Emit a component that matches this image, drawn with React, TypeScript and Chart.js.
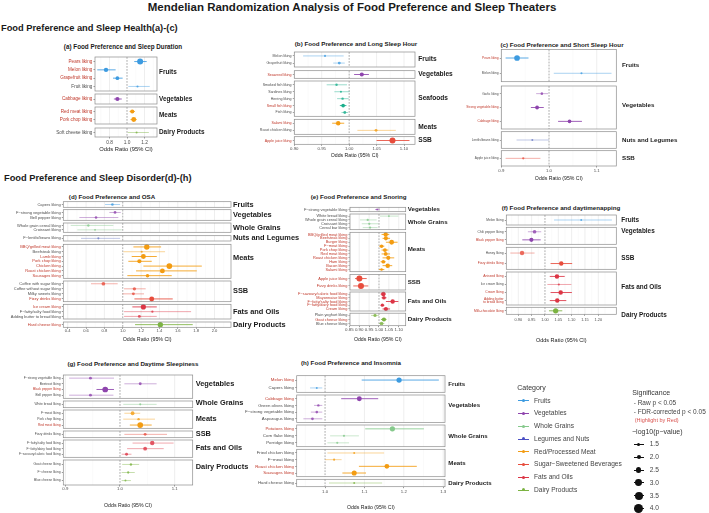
import React, { useEffect, useRef } from 'react';
import { Chart, registerables } from 'chart.js';

Chart.register(...registerables);

const FONT = "'Liberation Sans', Arial, Helvetica, sans-serif";
const RED_LABEL = '#C0392B';
const DARK_LABEL = '#4D4D4D';

const GROUP_COLORS: Record<string, string> = {
  Fruits: '#3D9BE0',
  Vegetables: '#8E44AD',
  'Whole Grains': '#86C98C',
  'Nuts and Legumes': '#6C7BC4',
  Meats: '#F39C12',
  Seafoods: '#1AAE8C',
  SSB: '#E74C3C',
  'Fats and Oils': '#DC3545',
  'Dairy Products': '#7CB342',
};

// ---------------- (a) Sleep Duration ----------------
const aLabels = ['Pears liking', 'Melon liking', 'Grapefruit liking', 'Fruit liking', 'Cabbage liking', 'Red meat liking', 'Pork chop liking', 'Soft cheese liking'];
const aGroups = ['Fruits', 'Fruits', 'Fruits', 'Fruits', 'Vegetables', 'Meats', 'Meats', 'Dairy Products'];
const aOR = [1.15, 0.76, 0.89, 1.12, 0.89, 1.06, 1.077, 1.11];
const aLow = [1.083, 0.66, 0.84, 1.015, 0.85, 1.03, 1.04, 1.008];
const aHigh = [1.225, 0.87, 0.95, 1.26, 0.94, 1.09, 1.11, 1.25];
const aLogP = [4.0, 3.0, 2.5, 1.5, 2.8, 2.8, 3.3, 1.4];
const aFdr = [1, 1, 1, 0, 1, 1, 1, 0];
const aTicks = [0.8, 1.0, 1.2];
const aMinor = [0.7, 0.9, 1.1, 1.3];

// ---------------- (b) Long Sleep Hour ----------------
const bLabels = ['Melon liking', 'Grapefruit liking', 'Seaweed liking', 'Smoked fish liking', 'Sardines liking', 'Herring liking', 'Small fish liking', 'Fish liking', 'Salami liking', 'Roast chicken liking', 'Apple juice liking'];
const bGroups = ['Fruits', 'Fruits', 'Vegetables', 'Seafoods', 'Seafoods', 'Seafoods', 'Seafoods', 'Seafoods', 'Meats', 'Meats', 'SSB'];
const bOR = [0.956, 0.982, 1.023, 0.977, 0.985, 0.988, 0.989, 0.992, 0.98, 1.049, 1.079];
const bLow = [0.916, 0.971, 1.009, 0.959, 0.973, 0.978, 0.983, 0.986, 0.969, 1.015, 1.05];
const bHigh = [0.99, 0.992, 1.036, 0.996, 1.001, 0.999, 0.995, 0.998, 0.991, 1.085, 1.11];
const bLogP = [1.5, 2.0, 2.8, 1.7, 1.5, 1.7, 2.5, 2.0, 3.0, 2.0, 4.0];
const bFdr = [0, 0, 1, 0, 0, 0, 1, 0, 1, 0, 1];
const bTicks = [0.9, 0.95, 1.0, 1.05, 1.1];
const bMinor = [0.925, 0.975, 1.025, 1.075];

// ---------------- (c) Short Sleep Hour ----------------
const cLabels = ['Pears liking', 'Melon liking', 'Garlic liking', 'Strong vegetable liking', 'Cabbage liking', 'Lentils/beans liking', 'Apple juice liking'];
const cGroups = ['Fruits', 'Fruits', 'Vegetables', 'Vegetables', 'Vegetables', 'Nuts and Legumes', 'SSB'];
const cOR = [0.933, 1.068, 0.985, 0.975, 1.043, 0.965, 0.946];
const cLow = [0.909, 1.01, 0.973, 0.962, 1.019, 0.932, 0.909];
const cHigh = [0.957, 1.131, 0.998, 0.989, 1.069, 1.0, 0.982];
const cLogP = [3.8, 1.5, 1.8, 2.6, 2.5, 1.4, 1.6];
const cFdr = [1, 0, 0, 1, 1, 0, 0];
const cTicks = [0.9, 1.0, 1.1];
const cMinor = [0.95, 1.05];

// ---------------- (d) OSA ----------------
const dLabels = ['Capers liking', 'F−strong vegetable liking', 'Bell pepper liking', 'Whole grain cereal liking', 'Croissant liking', 'F−lentils/beans liking', 'BBQ/grilled meat liking', 'Beefsteak liking', 'Lamb liking', 'Pork chop liking', 'Chicken liking', 'Roast chicken liking', 'Sausages liking', 'Coffee with sugar liking', 'Coffee without sugar liking', 'Milky sweets liking', 'Fizzy drinks liking', 'Ice cream liking', 'F−fatty/salty food liking', 'Adding butter to bread liking', 'Hard cheese liking'];
const dGroups = ['Fruits', 'Vegetables', 'Vegetables', 'Whole Grains', 'Whole Grains', 'Nuts and Legumes', 'Meats', 'Meats', 'Meats', 'Meats', 'Meats', 'Meats', 'Meats', 'SSB', 'SSB', 'SSB', 'SSB', 'Fats and Oils', 'Fats and Oils', 'Fats and Oils', 'Dairy Products'];
const dOR = [0.887, 0.916, 0.709, 0.625, 0.698, 0.734, 1.262, 1.207, 1.225, 1.181, 1.508, 1.432, 1.27, 0.789, 1.127, 1.116, 1.316, 1.225, 1.323, 1.181, 1.41];
const dLow = [0.807, 0.854, 0.527, 0.433, 0.505, 0.545, 1.116, 1.007, 1.098, 1.061, 1.225, 1.145, 1.05, 0.654, 1.014, 1.0, 1.127, 1.105, 1.014, 1.014, 1.134];
const dHigh = [0.971, 0.978, 0.952, 0.898, 0.989, 0.971, 1.418, 1.461, 1.371, 1.316, 1.862, 1.807, 1.534, 0.945, 1.25, 1.232, 1.545, 1.371, 1.745, 1.371, 1.763];
const dLogP = [1.8, 1.9, 1.8, 1.7, 1.4, 1.5, 3.6, 1.5, 3.3, 2.8, 3.8, 3.3, 2.4, 2.5, 2.3, 2.0, 3.3, 3.4, 1.6, 2.0, 3.5];
const dFdr = [0, 0, 0, 0, 0, 0, 1, 0, 1, 1, 1, 1, 1, 0, 0, 0, 1, 1, 0, 0, 1];
const dTicks = [0.4, 0.6, 0.8, 1.0, 1.2, 1.4, 1.6, 1.8, 2.0];
const dMinor = [0.5, 0.7, 0.9, 1.1, 1.3, 1.5, 1.7, 1.9, 2.1];

// ---------------- (e) Snoring ----------------
const eLabels = ['F−strong vegetable liking', 'White bread liking', 'Whole grain cereal liking', 'Croissant liking', 'Cereal bar liking', 'BBQ/grilled meat liking', 'Beefsteak liking', 'Burger liking', 'F−meat liking', 'Pork chop liking', 'Red meat liking', 'Roast chicken liking', 'Ham liking', 'Bacon liking', 'Salami liking', 'Apple juice liking', 'Fizzy drinks liking', 'F−savoury/caloric food liking', 'Mayonnaise liking', 'F−fatty/salty food liking', 'F−fatty/dairy food liking', 'Cream liking', 'Plain yoghurt liking', 'Goat cheese liking', 'Blue cheese liking'];
const eGroups = ['Vegetables', 'Whole Grains', 'Whole Grains', 'Whole Grains', 'Whole Grains', 'Meats', 'Meats', 'Meats', 'Meats', 'Meats', 'Meats', 'Meats', 'Meats', 'Meats', 'Meats', 'SSB', 'SSB', 'Fats and Oils', 'Fats and Oils', 'Fats and Oils', 'Fats and Oils', 'Fats and Oils', 'Dairy Products', 'Dairy Products', 'Dairy Products'];
const eOR = [0.991, 1.05, 0.943, 0.951, 0.955, 1.034, 1.035, 1.064, 1.013, 1.03, 1.034, 1.047, 1.022, 1.044, 1.013, 0.901, 0.909, 1.022, 1.025, 1.069, 1.017, 1.035, 0.98, 1.025, 1.013];
const eLow = [0.98, 1.005, 0.904, 0.913, 0.918, 1.013, 1.018, 1.035, 1.002, 1.013, 1.013, 1.018, 1.008, 1.018, 1.0, 0.879, 0.87, 1.008, 1.013, 1.035, 1.008, 1.018, 0.96, 1.01, 1.0];
const eHigh = [1.005, 1.098, 0.988, 0.997, 0.993, 1.052, 1.056, 1.094, 1.027, 1.047, 1.056, 1.077, 1.034, 1.067, 1.027, 0.938, 0.946, 1.034, 1.038, 1.098, 1.027, 1.056, 1.0, 1.038, 1.027];
const eLogP = [1.5, 1.4, 1.6, 1.6, 1.6, 3.0, 2.8, 3.2, 2.4, 2.6, 2.6, 2.8, 2.5, 3.0, 1.8, 4.0, 4.0, 3.0, 2.5, 3.0, 2.2, 2.8, 2.2, 2.8, 2.5];
const eFdr = [0, 0, 0, 0, 0, 1, 1, 1, 1, 1, 1, 1, 1, 1, 1, 1, 1, 1, 1, 1, 1, 1, 0, 1, 0];
const eTicks = [0.85, 0.9, 0.95, 1.0, 1.05, 1.1];
const eMinor: number[] = [];

// ---------------- (f) daytime napping ----------------
const fLabels = ['Melon liking', 'Chili pepper liking', 'Black pepper liking', 'Honey liking', 'Fizzy drinks liking', 'Aniseed liking', 'Ice cream liking', 'Cream liking', 'Adding butter\nto bread liking', 'Milk-chocolate liking'];
const fGroups = ['Fruits', 'Vegetables', 'Vegetables', 'SSB', 'SSB', 'Fats and Oils', 'Fats and Oils', 'Fats and Oils', 'Fats and Oils', 'Dairy Products'];
const fOR = [1.136, 0.961, 0.949, 0.914, 1.061, 1.045, 1.052, 1.059, 1.046, 1.04];
const fLow = [1.034, 0.936, 0.915, 0.87, 1.021, 1.018, 1.009, 1.021, 1.018, 1.015];
const fHigh = [1.251, 0.986, 0.984, 0.961, 1.102, 1.074, 1.099, 1.101, 1.08, 1.065];
const fLogP = [1.4, 2.5, 2.8, 3.0, 3.0, 3.0, 1.5, 3.0, 3.0, 3.5];
const fFdr = [0, 0, 1, 0, 1, 1, 0, 1, 1, 1];
const fTicks = [0.9, 0.95, 1.0, 1.05, 1.1, 1.15, 1.2];
const fMinor = [0.875, 0.925, 0.975, 1.025, 1.075, 1.125, 1.175, 1.225];

// ---------------- (g) Daytime Sleepiness ----------------
const gLabels = ['F−strong vegetable liking', 'Beetroot liking', 'Black pepper liking', 'Bell pepper liking', 'White bread liking', 'F−meat liking', 'Pork chop liking', 'Red meat liking', 'Fizzy drinks liking', 'F−fatty/salty food liking', 'F−fatty/dairy food liking', 'F−savoury/caloric food liking', 'Goat cheese liking', 'F−cheese liking', 'Blue cheese liking'];
const gGroups = ['Vegetables', 'Vegetables', 'Vegetables', 'Vegetables', 'Whole Grains', 'Meats', 'Meats', 'Meats', 'SSB', 'Fats and Oils', 'Fats and Oils', 'Fats and Oils', 'Dairy Products', 'Dairy Products', 'Dairy Products'];
const gOR = [0.946, 1.037, 0.973, 0.946, 1.037, 1.023, 1.034, 1.037, 1.046, 1.059, 1.046, 1.012, 1.02, 1.015, 1.01];
const gLow = [0.907, 1.008, 0.957, 0.907, 1.006, 1.008, 1.006, 1.018, 1.008, 1.023, 1.013, 1.003, 1.004, 1.003, 1.003];
const gHigh = [0.989, 1.067, 0.989, 0.988, 1.067, 1.037, 1.064, 1.058, 1.086, 1.098, 1.08, 1.021, 1.035, 1.027, 1.02];
const gLogP = [2.0, 2.0, 3.8, 2.0, 1.5, 2.6, 1.7, 3.8, 2.0, 3.0, 2.6, 2.0, 1.7, 1.6, 1.4];
const gFdr = [0, 0, 1, 0, 0, 0, 0, 1, 0, 0, 0, 0, 0, 0, 0];
const gTicks = [0.9, 1.0, 1.1];
const gMinor = [0.95, 1.05];

// ---------------- (h) Insomnia ----------------
const hLabels = ['Melon liking', 'Capers liking', 'Cabbage liking', 'Green olives liking', 'F−strong vegetable liking', 'Asparagus liking', 'Potatoes liking', 'Corn flake liking', 'Porridge liking', 'Fried chicken liking', 'F−meat liking', 'Roast chicken liking', 'Sausages liking', 'Hard cheese liking'];
const hGroups = ['Fruits', 'Fruits', 'Vegetables', 'Vegetables', 'Vegetables', 'Vegetables', 'Whole Grains', 'Whole Grains', 'Whole Grains', 'Meats', 'Meats', 'Meats', 'Meats', 'Dairy Products'];
const hOR = [1.188, 0.979, 1.087, 0.983, 0.979, 0.968, 1.171, 1.048, 1.031, 1.074, 1.023, 1.157, 1.074, 1.074];
const hLow = [1.093, 0.962, 1.041, 0.972, 0.964, 0.945, 1.102, 1.013, 1.006, 1.006, 1.0, 1.086, 1.044, 1.01];
const hHigh = [1.289, 0.993, 1.135, 0.993, 0.993, 0.993, 1.251, 1.086, 1.061, 1.15, 1.042, 1.233, 1.104, 1.145];
const hLogP = [3.5, 1.4, 3.3, 1.7, 1.8, 1.9, 3.5, 1.6, 1.5, 1.4, 1.5, 3.2, 3.4, 1.4];
const hFdr = [1, 0, 1, 0, 0, 0, 1, 0, 0, 0, 0, 1, 1, 0];
const hTicks = [1.0, 1.1, 1.2, 1.3];
const hMinor = [0.95, 1.05, 1.15, 1.25];

// ---------------- legend ----------------
const legendCats = ['Fruits', 'Vegetables', 'Whole Grains', 'Legumes and Nuts', 'Red/Processed Meat', 'Sugar−Sweetened Beverages', 'Fats and Oils', 'Dairy Products'];
const legendColors = ['#3D9BE0', '#8E44AD', '#86C98C', '#4B4FC4', '#F39C12', '#E74C3C', '#DC3545', '#7CB342'];
const sizeLevels = [1.5, 2.0, 2.5, 3.0, 3.5, 4.0];

type Series = { labels: string[]; groups: string[]; or: number[]; lo: number[]; hi: number[]; logp: number[]; fdr: number[]; ticks: number[]; minor: number[] };
type Layout = {
  L: number; R: number; boxes: number[][]; labelDy?: number[]; xMin: number; xMax: number; decimals: number;
  tickY: number; titleY: number; groupX: number;
  groupFont: number; labelFont: number; tickFont: number; titleFont: number;
  canvasLeft: number; canvasRight: number;
};

function rgba(hex: string, a: number) {
  const n = parseInt(hex.slice(1), 16);
  return `rgba(${(n >> 16) & 255},${(n >> 8) & 255},${n & 255},${a})`;
}
const radius = (s: number) => 0.9 + (s - 1.3) * 0.78;

const PANELS: { s: Series; lay: Layout }[] = [
  {
    s: { labels: aLabels, groups: aGroups, or: aOR, lo: aLow, hi: aHigh, logp: aLogP, fdr: aFdr, ticks: aTicks, minor: aMinor },
    lay: { L: 95, R: 157, boxes: [[57, 91], [94, 104], [107, 124], [128, 137]], labelDy: [-1.5, 0, 0, 0], xMin: 0.634, xMax: 1.343, decimals: 1, tickY: 143, titleY: 149, groupX: 159, groupFont: 6.4, labelFont: 4.6, tickFont: 4.8, titleFont: 5.8, canvasLeft: 20, canvasRight: 240 },
  },
  {
    s: { labels: bLabels, groups: bGroups, or: bOR, lo: bLow, hi: bHigh, logp: bLogP, fdr: bFdr, ticks: bTicks, minor: bMinor },
    lay: { L: 294.3, R: 415, boxes: [[52, 67], [70.7, 78.3], [81, 116.3], [119.3, 134.3], [136.7, 144.3]], xMin: 0.9, xMax: 1.12, decimals: 2, tickY: 149, titleY: 155.7, groupX: 418.3, groupFont: 6.6, labelFont: 3.6, tickFont: 4.3, titleFont: 5.2, canvasLeft: 245, canvasRight: 470 },
  },
  {
    s: { labels: cLabels, groups: cGroups, or: cOR, lo: cLow, hi: cHigh, logp: cLogP, fdr: cFdr, ticks: cTicks, minor: cMinor },
    lay: { L: 501.3, R: 616.3, boxes: [[49.6, 81.7], [86, 129], [131.7, 148.3], [150.7, 166]], labelDy: [0, -2.5, 0, 0], xMin: 0.9, xMax: 1.141, decimals: 1, tickY: 171, titleY: 178.3, groupX: 622, groupFont: 6.2, labelFont: 3.2, tickFont: 4.3, titleFont: 5.2, canvasLeft: 450, canvasRight: 709 },
  },
  {
    s: { labels: dLabels, groups: dGroups, or: dOR, lo: dLow, hi: dHigh, logp: dLogP, fdr: dFdr, ticks: dTicks, minor: dMinor },
    lay: { L: 63.3, R: 231, boxes: [[201.7, 207.3], [209.7, 220.3], [223, 232.3], [235.7, 241], [244.3, 278.3], [281, 301.7], [304.3, 319], [322, 327.3]], labelDy: [0, 0, 0, 0, -3.5, 0, 0, 0], xMin: 0.352, xMax: 2.18, decimals: 1, tickY: 331, titleY: 339.3, groupX: 233, groupFont: 7.4, labelFont: 4.0, tickFont: 4.1, titleFont: 5.3, canvasLeft: 0, canvasRight: 305 },
  },
  {
    s: { labels: eLabels, groups: eGroups, or: eOR, lo: eLow, hi: eHigh, logp: eLogP, fdr: eFdr, ticks: eTicks, minor: eMinor },
    lay: { L: 350, R: 405.7, boxes: [[207.3, 211.7], [214, 229.7], [232.3, 271.7], [274.5, 290], [292, 311], [313.2, 325.7]], labelDy: [0, 0, -3, 0, 0, 0], xMin: 0.8535, xMax: 1.135, decimals: 2, tickY: 329, titleY: 339.3, groupX: 407.7, groupFont: 6.2, labelFont: 3.9, tickFont: 4.4, titleFont: 5.2, canvasLeft: 285, canvasRight: 470 },
  },
  {
    s: { labels: fLabels, groups: fGroups, or: fOR, lo: fLow, hi: fHigh, logp: fLogP, fdr: fFdr, ticks: fTicks, minor: fMinor },
    lay: { L: 506.3, R: 616.3, boxes: [[215, 225], [227.3, 244.3], [247.3, 269.3], [272, 305], [307.3, 314.3]], labelDy: [0, -5, 0, -1, 4.5], xMin: 0.855, xMax: 1.2675, decimals: 2, tickY: 320, titleY: 340, groupX: 621.3, groupFont: 6.4, labelFont: 3.3, tickFont: 3.9, titleFont: 5.5, canvasLeft: 460, canvasRight: 709 },
  },
  {
    s: { labels: gLabels, groups: gGroups, or: gOR, lo: gLow, hi: gHigh, logp: gLogP, fdr: gFdr, ticks: gTicks, minor: gMinor },
    lay: { L: 63.3, R: 192.7, boxes: [[375, 398.3], [401, 407.7], [410, 428.3], [431, 437.7], [440, 457.3], [460, 485]], labelDy: [-2.7, -1, 0, 0, -1, -6], xMin: 0.8963, xMax: 1.133, decimals: 1, tickY: 489, titleY: 506, groupX: 195.7, groupFont: 7.4, labelFont: 3.3, tickFont: 4.3, titleFont: 5.2, canvasLeft: 0, canvasRight: 255 },
  },
  {
    s: { labels: hLabels, groups: hGroups, or: hOR, lo: hLow, hi: hHigh, logp: hLogP, fdr: hFdr, ticks: hTicks, minor: hMinor },
    lay: { L: 296.7, R: 445, boxes: [[375.7, 392.3], [395, 422.5], [425, 446.7], [449.3, 476.7], [479.3, 486.7]], labelDy: [0, -3, 0, 0, 0], xMin: 0.928, xMax: 1.3046, decimals: 1, tickY: 491.7, titleY: 507.3, groupX: 448.3, groupFont: 6.1, labelFont: 4.4, tickFont: 4.3, titleFont: 5.2, canvasLeft: 240, canvasRight: 505 },
  },
];

function ForestPanel({ s, lay }: { s: Series; lay: Layout }) {
  const ref = useRef<HTMLCanvasElement | null>(null);
  const T = lay.boxes[0][0];
  const B = lay.boxes[lay.boxes.length - 1][1];
  const canvasTop = Math.floor(T - 5);
  const padTop = T - canvasTop;
  const axisH = lay.titleY - B + lay.titleFont * 0.6;
  const canvasH = Math.ceil(padTop + (B - T) + axisH + 1);
  const padBottom = canvasH - (padTop + (B - T) + axisH);
  const canvasW = lay.canvasRight - lay.canvasLeft;
  const TL = 1.5;

  useEffect(() => {
    const canvas = ref.current;
    if (!canvas) return;
    const groupNames: string[] = [];
    s.groups.forEach((g) => { if (!groupNames.includes(g)) groupNames.push(g); });
    const boxes = lay.boxes.map(([t, b]) => [t - T, b - T]);
    const E = 0.55;
    const rowPos = s.labels.map((_, i) => {
      const gi = groupNames.indexOf(s.groups[i]);
      const members = s.groups.map((g, j) => (g === s.groups[i] ? j : -1)).filter((j) => j >= 0);
      const k = members.indexOf(i);
      const n = members.length;
      const [t, b] = boxes[gi];
      return t + ((b - t) * (E + k)) / (n - 1 + 2 * E);
    });

    const colorOf = (i: number) => GROUP_COLORS[s.groups[i]] || '#888';
    const datasets: any[] = [
      {
        data: s.or.map((v, i) => ({ x: v, y: rowPos[i] })),
        pointRadius: s.logp.map(radius),
        pointBackgroundColor: s.or.map((_, i) => rgba(colorOf(i), s.fdr[i] ? 1 : 0.8)),
        pointBorderWidth: 0,
        showLine: false,
        order: 0,
      },
    ];
    s.lo.forEach((lo, i) => {
      datasets.push({
        data: [{ x: lo, y: rowPos[i] }, { x: s.hi[i], y: rowPos[i] }],
        showLine: true,
        borderColor: rgba(colorOf(i), s.fdr[i] ? 0.85 : 0.55),
        borderWidth: s.fdr[i] ? 1 : 0.8,
        pointRadius: 0,
        order: 1,
      });
    });

    const facetPlugin = {
      id: 'facets',
      beforeDatasetsDraw(chart: any) {
        const { ctx, chartArea, scales } = chart;
        const x = scales.x;
        const y = scales.y;
        boxes.forEach(([t, b]) => {
          const yt = y.getPixelForValue(t);
          const yb = y.getPixelForValue(b);
          ctx.save();
          ctx.fillStyle = '#ffffff';
          ctx.fillRect(chartArea.left, yt, chartArea.right - chartArea.left, yb - yt);
          ctx.lineWidth = 0.4;
          ctx.strokeStyle = '#F2F2F2';
          s.minor.forEach((v) => {
            if (v <= lay.xMin || v >= lay.xMax) return;
            const px = x.getPixelForValue(v);
            ctx.beginPath(); ctx.moveTo(px, yt); ctx.lineTo(px, yb); ctx.stroke();
          });
          ctx.lineWidth = 0.6;
          ctx.strokeStyle = '#E2E2E2';
          s.ticks.forEach((v) => {
            if (v === 1) return;
            const px = x.getPixelForValue(v);
            ctx.beginPath(); ctx.moveTo(px, yt); ctx.lineTo(px, yb); ctx.stroke();
          });
          const p1 = x.getPixelForValue(1);
          ctx.setLineDash([1.8, 1.2]);
          ctx.strokeStyle = '#8A8A8A';
          ctx.lineWidth = 0.7;
          ctx.beginPath(); ctx.moveTo(p1, yt); ctx.lineTo(p1, yb); ctx.stroke();
          ctx.restore();
        });
      },
      afterDatasetsDraw(chart: any) {
        const { ctx, chartArea, scales } = chart;
        const y = scales.y;
        boxes.forEach(([t, b], gi) => {
          const yt = y.getPixelForValue(t);
          const yb = y.getPixelForValue(b);
          ctx.save();
          ctx.strokeStyle = '#8C8C8C';
          ctx.lineWidth = 0.7;
          ctx.strokeRect(chartArea.left, yt, chartArea.right - chartArea.left, yb - yt);
          ctx.fillStyle = '#1A1A1A';
          ctx.font = `bold ${lay.groupFont}px ${FONT}`;
          ctx.textAlign = 'left';
          ctx.textBaseline = 'middle';
          const dy = lay.labelDy ? lay.labelDy[gi] || 0 : 0;
          ctx.fillText(groupNames[gi], lay.groupX - lay.canvasLeft, (yt + yb) / 2 + dy);
          ctx.restore();
        });
      },
    };

    const tickPad = Math.max(0, lay.tickY - B - TL - lay.tickFont * 0.6);

    const chart = new Chart(canvas, {
      type: 'scatter',
      data: { datasets },
      plugins: [facetPlugin],
      options: {
        responsive: false,
        animation: false,
        devicePixelRatio: 1,
        events: [],
        layout: { padding: { top: padTop, bottom: padBottom, left: 0, right: lay.canvasRight - lay.R } },
        plugins: { legend: { display: false }, tooltip: { enabled: false } },
        scales: {
          x: {
            type: 'linear',
            position: 'bottom',
            min: lay.xMin,
            max: lay.xMax,
            bounds: 'data',
            afterBuildTicks: (sc: any) => { sc.ticks = s.ticks.map((v) => ({ value: v })); },
            afterFit: (sc: any) => { sc.height = axisH; },
            ticks: {
              autoSkip: false, maxRotation: 0, minRotation: 0, padding: tickPad, color: '#4D4D4D',
              font: { family: FONT, size: lay.tickFont },
              callback: (v: any) => Number(v).toFixed(lay.decimals),
            },
            grid: { drawOnChartArea: false, drawTicks: true, tickLength: TL, color: '#555', lineWidth: 0.6 },
            border: { display: false },
            title: { display: true, text: 'Odds Ratio (95% CI)', color: '#1A1A1A', font: { family: FONT, size: lay.titleFont }, padding: 0 },
          },
          y: {
            type: 'linear',
            position: 'left',
            reverse: true,
            min: 0,
            max: B - T,
            bounds: 'data',
            afterBuildTicks: (sc: any) => { sc.ticks = rowPos.map((v) => ({ value: v })); },
            afterFit: (sc: any) => { sc.width = lay.L - lay.canvasLeft; },
            ticks: {
              autoSkip: false, padding: 1.2,
              color: (c: any) => (s.fdr[c.index] ? RED_LABEL : DARK_LABEL),
              font: { family: FONT, size: lay.labelFont },
              callback: (_v: any, i: number) => (s.labels[i].includes('\n') ? s.labels[i].split('\n') : s.labels[i]),
            },
            grid: { drawOnChartArea: false, drawTicks: true, tickLength: TL, color: '#555', lineWidth: 0.6 },
            border: { display: false },
          },
        },
      } as any,
    });
    return () => chart.destroy();
  }, []);

  return (
    <canvas
      ref={ref}
      width={canvasW}
      height={canvasH}
      style={{ position: 'absolute', left: lay.canvasLeft, top: canvasTop, width: canvasW, height: canvasH }}
    />
  );
}

function Txt({ x, y, size, bold, color = '#1A1A1A', center, children }: any) {
  return (
    <div
      style={{
        position: 'absolute', left: x, top: y,
        transform: `translate(${center ? '-50%' : '0'}, -50%)`,
        fontSize: size, fontWeight: bold ? 700 : 400, color,
        whiteSpace: 'nowrap', lineHeight: 1, fontFamily: FONT,
      }}
    >
      {children}
    </div>
  );
}

function Legend() {
  return (
    <>
      <Txt x={517.3} y={386.7} size={7} color="#333">Category</Txt>
      {legendCats.map((c, i) => {
        const y = 400.7 + i * 12.75;
        return (
          <React.Fragment key={c}>
            <div style={{ position: 'absolute', left: 518, top: y - 0.4, width: 11, height: 0.8, background: legendColors[i] }} />
            <div style={{ position: 'absolute', left: 522, top: y - 1.5, width: 3, height: 3, borderRadius: '50%', background: legendColors[i] }} />
            <Txt x={534} y={y} size={6.6} color="#444">{c}</Txt>
          </React.Fragment>
        );
      })}
      <Txt x={632.3} y={391.7} size={7} color="#333">Significance</Txt>
      <Txt x={633.7} y={402.7} size={6.5} color="#444">- Raw p &lt; 0.05</Txt>
      <Txt x={633.7} y={412} size={6.5} color="#444">- FDR-corrected p &lt; 0.05</Txt>
      <Txt x={634.7} y={421} size={5.5} color="#D9534F">(Highlight by Red)</Txt>
      <Txt x={632} y={431} size={7} color="#333">−log10(p−value)</Txt>
      {sizeLevels.map((v, i) => {
        const y = 444.3 + i * 12.8;
        const r = 1.6 + (v - 1.5) * 1.2;
        return (
          <React.Fragment key={v}>
            <div style={{ position: 'absolute', left: 634, top: y - 0.4, width: 9.5, height: 0.8, background: '#111' }} />
            <div style={{ position: 'absolute', left: 638.7 - r, top: y - r, width: 2 * r, height: 2 * r, borderRadius: '50%', background: '#111' }} />
            <Txt x={649.7} y={y} size={6.6} color="#444">{v.toFixed(1)}</Txt>
          </React.Fragment>
        );
      })}
    </>
  );
}

export default function App() {
  return (
    <div style={{ position: 'fixed', left: 0, top: 0, width: 709, height: 513, background: '#fff', overflow: 'hidden', fontFamily: FONT }}>
      <Txt x={352} y={7.5} size={11.5} bold center>Mendelian Randomization Analysis of Food Preference and Sleep Theaters</Txt>
      <Txt x={1} y={29.3} size={9.3} bold>Food Preference and Sleep Health(a)-(c)</Txt>
      <Txt x={4} y={179} size={9.3} bold>Food Preference and Sleep Disorder(d)-(h)</Txt>
      <Txt x={123} y={46.5} size={6.3} bold center>(a) Food Preference and Sleep Duration</Txt>
      <Txt x={356} y={43.5} size={6.2} bold center>(b) Food Preference and Long Sleep Hour</Txt>
      <Txt x={562} y={45} size={6.2} bold center>(c) Food Preference and Short Sleep Hour</Txt>
      <Txt x={112} y={196.5} size={6.2} bold center>(d) Food Preference and OSA</Txt>
      <Txt x={358.7} y={196.5} size={6.2} bold center>(e) Food Preference and Snoring</Txt>
      <Txt x={561} y={208} size={6.2} bold center>(f) Food Preference and daytimenapping</Txt>
      <Txt x={133} y={364.3} size={6.2} bold center>(g) Food Preference and Daytime Sleepiness</Txt>
      <Txt x={351} y={363.3} size={6.2} bold center>(h) Food Preference and Insomnia</Txt>
      {PANELS.map((p, i) => (
        <ForestPanel key={i} s={p.s} lay={p.lay} />
      ))}
      <Legend />
    </div>
  );
}
